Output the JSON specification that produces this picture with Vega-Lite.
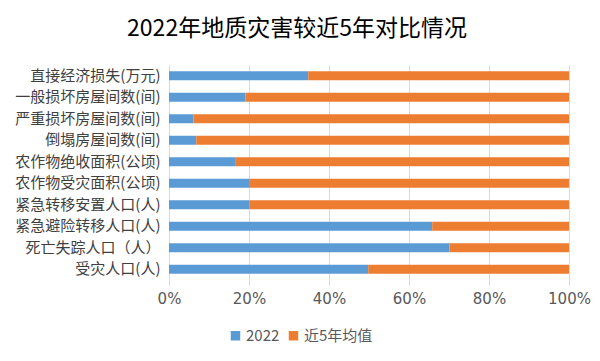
{
  "$schema": "https://vega.github.io/schema/vega-lite/v6.json",
  "autosize": {"type": "none"},
  "width": 400,
  "height": 215,
  "padding": {"left": 169, "top": 65, "right": 31, "bottom": 81},
  "background": "white",
  "title": {
    "text": "2022年地质灾害较近5年对比情况",
    "font": "Noto Sans CJK SC",
    "fontSize": 23,
    "fontWeight": "normal",
    "color": "#000000",
    "anchor": "middle",
    "frame": "group",
    "dx": -72,
    "offset": 24
  },
  "data": {
    "values": [
      {"item": "直接经济损失(万元)", "series": "2022", "value": 34.8, "k": 1},
      {"item": "直接经济损失(万元)", "series": "近5年均值", "value": 65.2, "k": 2},
      {"item": "一般损坏房屋间数(间)", "series": "2022", "value": 19.1, "k": 1},
      {"item": "一般损坏房屋间数(间)", "series": "近5年均值", "value": 80.9, "k": 2},
      {"item": "严重损坏房屋间数(间)", "series": "2022", "value": 6.1, "k": 1},
      {"item": "严重损坏房屋间数(间)", "series": "近5年均值", "value": 93.9, "k": 2},
      {"item": "倒塌房屋间数(间)", "series": "2022", "value": 6.8, "k": 1},
      {"item": "倒塌房屋间数(间)", "series": "近5年均值", "value": 93.2, "k": 2},
      {"item": "农作物绝收面积(公顷)", "series": "2022", "value": 16.7, "k": 1},
      {"item": "农作物绝收面积(公顷)", "series": "近5年均值", "value": 83.3, "k": 2},
      {"item": "农作物受灾面积(公顷)", "series": "2022", "value": 20.2, "k": 1},
      {"item": "农作物受灾面积(公顷)", "series": "近5年均值", "value": 79.8, "k": 2},
      {"item": "紧急转移安置人口(人)", "series": "2022", "value": 20.1, "k": 1},
      {"item": "紧急转移安置人口(人)", "series": "近5年均值", "value": 79.9, "k": 2},
      {"item": "紧急避险转移人口(人)", "series": "2022", "value": 65.8, "k": 1},
      {"item": "紧急避险转移人口(人)", "series": "近5年均值", "value": 34.2, "k": 2},
      {"item": "死亡失踪人口（人）", "series": "2022", "value": 70.1, "k": 1},
      {"item": "死亡失踪人口（人）", "series": "近5年均值", "value": 29.9, "k": 2},
      {"item": "受灾人口(人)", "series": "2022", "value": 49.8, "k": 1},
      {"item": "受灾人口(人)", "series": "近5年均值", "value": 50.2, "k": 2}
    ]
  },
  "mark": {"type": "bar", "size": 9},
  "encoding": {
    "y": {
      "field": "item",
      "type": "nominal",
      "sort": null,
      "title": null,
      "axis": {
        "labelFont": "Noto Sans CJK SC",
        "labelFontSize": 15,
        "labelColor": "#404040",
        "labelPadding": 9,
        "ticks": false,
        "domain": true,
        "domainColor": "#d9d9d9",
        "grid": false
      }
    },
    "x": {
      "field": "value",
      "type": "quantitative",
      "stack": "normalize",
      "title": null,
      "scale": {"domain": [0, 1]},
      "axis": {
        "format": ".0%",
        "values": [0, 0.2, 0.4, 0.6, 0.8, 1],
        "labelFont": "DejaVu Sans",
        "labelFontSize": 15,
        "labelColor": "#595959",
        "labelPadding": 6,
        "domain": false,
        "ticks": true,
        "tickSize": 5,
        "tickColor": "#d9d9d9",
        "grid": true,
        "gridColor": "#d9d9d9",
        "labelFlush": false
      }
    },
    "color": {
      "field": "series",
      "type": "nominal",
      "scale": {"domain": ["2022", "近5年均值"], "range": ["#5B9BD5", "#ED7D31"]},
      "legend": {
        "title": null,
        "orient": "none",
        "direction": "horizontal",
        "legendX": 59,
        "legendY": 263,
        "symbolType": "square",
        "symbolSize": 90,
        "symbolStrokeWidth": 0,
        "labelFont": "Noto Sans CJK SC",
        "labelFontSize": 15,
        "labelColor": "#595959",
        "labelOffset": 3,
        "columnPadding": 6
      }
    },
    "order": {"field": "k", "type": "quantitative"}
  },
  "config": {"view": {"stroke": null}}
}
